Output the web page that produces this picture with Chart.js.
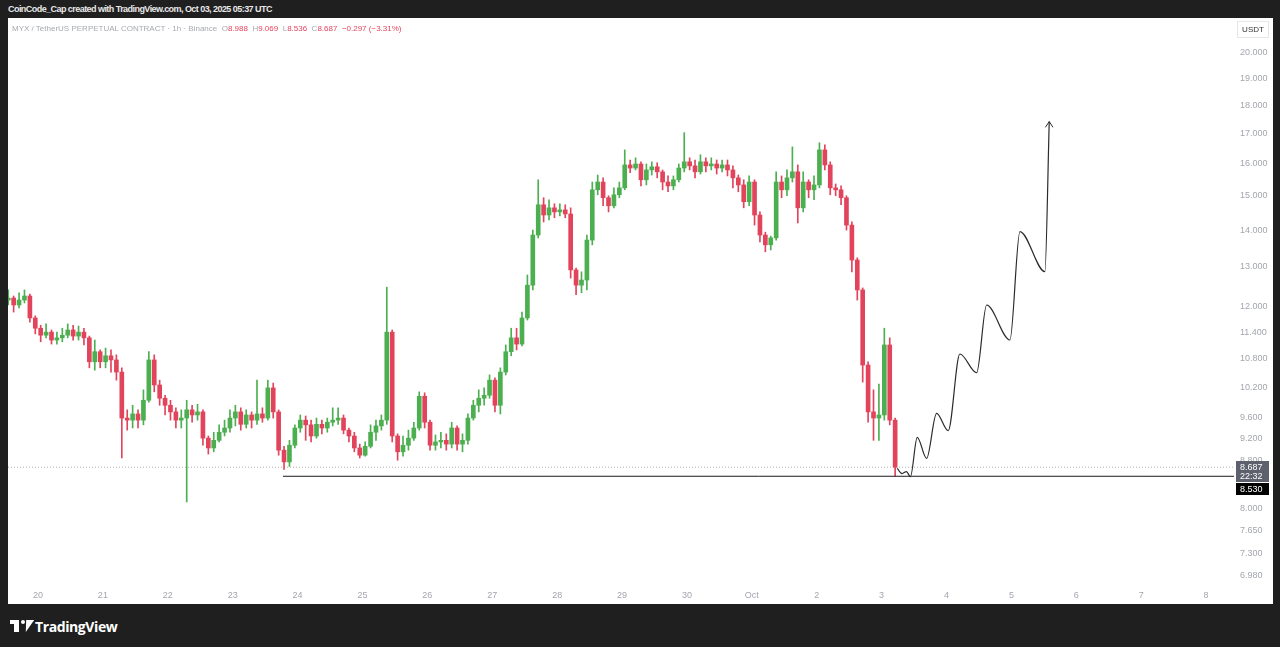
<!DOCTYPE html>
<html>
<head>
<meta charset="utf-8">
<title>MYX / TetherUS 1h</title>
<script src="https://cdn.jsdelivr.net/npm/chart.js@4.4.1/dist/chart.umd.min.js"></script>
<style>
  html, body { margin: 0; padding: 0; }
  body {
    width: 1280px; height: 647px; overflow: hidden; position: relative;
    background: #1f1f1f; font-family: "Liberation Sans", Arial, sans-serif;
  }
  .credit {
    position: absolute; left: 8px; top: 4px; font-size: 9px; font-weight: 600;
    color: #e8e8e8; letter-spacing: -0.55px;
  }
  .pane { position: absolute; left: 8px; top: 18px; width: 1265px; height: 586px; background: #fff; }
  .chart-box { position: absolute; left: 8px; top: 18px; width: 1265px; height: 586px; }
  .legend {
    position: absolute; left: 12px; top: 24px; font-size: 8px; color: #a6a9b0; white-space: nowrap;
  }
  .legend .v { color: #e2445c; }
  .brand { position: absolute; left: 10px; top: 616px; height: 20px; display: flex; align-items: center; }
  .brand .logo { position: relative; width: 22px; height: 14px; margin-right: 3px; }
  .brand .logo .t1 { position: absolute; left: 0; top: 1px; width: 9px; height: 4px; background: #fff; }
  .brand .logo .t2 { position: absolute; left: 4px; top: 1px; width: 5px; height: 12px; background: #fff; }
  .brand .logo .dot { position: absolute; left: 11px; top: 1px; width: 4px; height: 4px; border-radius: 2px; background: #fff; }
  .brand .logo .v { position: absolute; left: 14px; top: 1px; width: 0; height: 0;
    border-left: 4px solid transparent; border-right: 4px solid transparent; border-top: 12px solid #fff; transform: skewX(-20deg); }
  .brand span { color: #fff; font-size: 14px; font-weight: 700; font-family: "Open Sans", "Liberation Sans", sans-serif; letter-spacing: -0.4px; }
</style>
</head>
<body>
<div class="credit">CoinCode_Cap created with TradingView.com, Oct 03, 2025 05:37 UTC</div>
<div class="pane"></div>
<div class="chart-box"><canvas id="priceChart"></canvas></div>
<div class="legend">MYX / TetherUS PERPETUAL CONTRACT · 1h · Binance&nbsp;&nbsp;O<span class="v">8.988</span>&nbsp;&nbsp;H<span class="v">9.069</span>&nbsp;&nbsp;L<span class="v">8.536</span>&nbsp;&nbsp;C<span class="v">8.687</span>&nbsp;&nbsp;<span class="v">−0.297 (−3.31%)</span></div>
<div class="brand"><div class="logo"><div class="t1"></div><div class="t2"></div><div class="dot"></div><div class="v"></div></div><span>TradingView</span></div>

<script>
// time axis: days counted from Sep 20 00:00
const dayTicks = [0, 1, 2, 3, 4, 5, 6, 7, 8, 9, 10, 11, 12, 13, 14, 15, 16, 17, 18];
const dayLabels = ["20", "21", "22", "23", "24", "25", "26", "27", "28", "29", "30", "Oct", "2", "3", "4", "5", "6", "7", "8"];
const xMin = -0.462;
const xMax = 18.43;

// price axis (log)
const priceTicks = [20, 19, 18, 17, 16, 15, 14, 13, 12, 11.4, 10.8, 10.2, 9.6, 9.2, 8.8, 8.0, 7.65, 7.3, 6.98];
const yMin = 6.84;
const yMax = 21.45;

// candles, 2h each, first one centred on Sep 19 13:00
const candleStart = -0.4583;
const candleStep = 2 / 24;

const opens = [
  12.16, 12.21, 12.04, 12.16, 12.26, 11.73, 11.49, 11.33, 11.40, 11.22,
  11.27, 11.33, 11.45, 11.31, 11.40, 11.27, 10.74, 10.96, 10.74, 10.87,
  10.78, 10.52, 9.59, 9.55, 9.67, 9.55, 9.94, 10.78, 10.25, 9.98,
  9.84, 9.71, 9.55, 9.59, 9.75, 9.65, 9.71, 9.21, 9.03, 9.17,
  9.32, 9.40, 9.59, 9.71, 9.47, 9.65, 9.55, 9.67, 9.59, 10.19,
  9.71, 8.99, 8.78, 9.08, 9.40, 9.55, 9.46, 9.25, 9.47, 9.40,
  9.51, 9.55, 9.59, 9.36, 9.25, 9.03, 8.90, 9.06, 9.32, 9.44,
  9.55, 11.40, 9.25, 8.96, 9.08, 9.21, 9.40, 10.02, 9.51, 9.08,
  9.14, 9.17, 9.10, 9.40, 9.10, 9.17, 9.59, 9.84, 9.98, 10.04,
  10.35, 9.84, 10.52, 10.96, 11.27, 11.13, 11.73, 12.53, 13.86, 14.73,
  14.43, 14.64, 14.52, 14.58, 14.46, 12.92, 12.53, 12.66, 13.72, 15.18,
  15.42, 14.94, 14.70, 15.03, 15.24, 15.96, 15.86, 15.99, 15.49, 15.80,
  15.90, 15.74, 15.42, 15.30, 15.49, 15.86, 16.06, 15.93, 15.74, 16.06,
  15.93, 15.99, 15.86, 15.96, 15.80, 15.55, 15.33, 14.82, 15.42, 14.43,
  13.86, 13.59, 13.78, 15.42, 15.18, 15.55, 15.74, 14.64, 15.42, 15.18,
  15.33, 16.45, 15.96, 15.24, 15.18, 14.94, 14.14, 13.18, 12.41, 10.67,
  9.71, 9.59, 9.65, 11.11, 9.55
];
const highs = [
  12.41, 12.26, 12.34, 12.41, 12.31, 11.78, 11.56, 11.59, 11.45, 11.40,
  11.49, 11.59, 11.56, 11.54, 11.49, 11.31, 11.22, 11.00, 11.04, 11.00,
  10.89, 10.61, 9.75, 9.84, 9.75, 10.15, 10.96, 10.89, 10.35, 10.04,
  9.94, 9.79, 9.75, 9.94, 9.84, 9.86, 9.75, 9.25, 9.32, 9.46,
  9.55, 9.75, 9.84, 9.79, 9.75, 9.71, 10.35, 9.79, 10.35, 10.29,
  9.75, 9.06, 9.17, 9.46, 9.65, 9.63, 9.55, 9.59, 9.55, 9.59,
  9.79, 9.79, 9.65, 9.40, 9.32, 9.10, 9.14, 9.46, 9.55, 9.65,
  12.48, 11.45, 9.29, 9.25, 9.36, 9.51, 10.11, 10.09, 9.55, 9.27,
  9.32, 9.29, 9.51, 9.44, 9.29, 9.67, 9.94, 10.15, 10.19, 10.46,
  10.40, 10.61, 11.11, 11.49, 11.49, 11.87, 12.79, 14.00, 15.49, 14.94,
  14.88, 14.76, 14.76, 14.73, 14.64, 12.97, 12.87, 13.86, 15.42, 15.64,
  15.55, 15.00, 15.24, 15.42, 16.45, 16.12, 16.19, 16.06, 15.99, 16.06,
  16.03, 15.80, 15.61, 15.61, 15.99, 17.03, 16.19, 16.12, 16.29, 16.19,
  16.19, 16.12, 16.12, 16.12, 15.93, 15.64, 15.49, 15.61, 15.49, 14.52,
  13.94, 13.83, 15.74, 15.61, 15.80, 16.55, 15.96, 15.74, 15.49, 15.61,
  16.69, 16.62, 16.06, 15.36, 15.30, 15.00, 14.23, 13.24, 12.46, 10.74,
  10.15, 10.27, 11.49, 11.27, 9.59
];
const lows = [
  12.04, 11.87, 11.97, 12.09, 11.63, 11.36, 11.18, 11.27, 11.13, 11.13,
  11.18, 11.27, 11.22, 11.22, 11.11, 10.61, 10.56, 10.61, 10.61, 10.52,
  10.35, 8.85, 9.36, 9.40, 9.40, 9.46, 9.90, 10.11, 9.84, 9.65,
  9.55, 9.40, 9.40, 8.10, 9.51, 9.55, 9.08, 8.92, 8.96, 9.14,
  9.25, 9.32, 9.44, 9.36, 9.40, 9.40, 9.47, 9.51, 9.55, 9.59,
  8.90, 8.65, 8.70, 9.03, 9.32, 9.17, 9.14, 9.21, 9.29, 9.32,
  9.44, 9.47, 9.29, 9.14, 8.96, 8.85, 8.88, 9.03, 9.17, 9.36,
  9.47, 9.14, 8.81, 8.88, 8.99, 9.17, 9.36, 9.40, 8.99, 8.99,
  9.03, 8.99, 9.03, 8.99, 8.96, 9.10, 9.55, 9.71, 9.84, 9.98,
  9.71, 9.67, 10.46, 10.87, 11.00, 11.09, 11.68, 12.41, 13.78, 14.23,
  14.29, 14.35, 14.40, 14.35, 12.71, 12.29, 12.34, 12.41, 13.59, 15.03,
  14.70, 14.52, 14.64, 14.94, 15.18, 15.71, 15.80, 15.30, 15.33, 15.64,
  15.55, 15.18, 15.12, 15.18, 15.42, 15.74, 15.80, 15.55, 15.67, 15.74,
  15.80, 15.67, 15.74, 15.61, 15.24, 15.12, 14.64, 14.70, 14.14, 13.67,
  13.40, 13.45, 13.72, 14.94, 15.00, 15.42, 14.20, 14.52, 14.94, 14.88,
  15.24, 15.80, 15.03, 15.00, 14.73, 14.00, 12.87, 12.16, 10.31, 9.51,
  9.17, 9.17, 9.55, 9.46, 8.536
];
const closes = [
  12.21, 12.04, 12.16, 12.26, 11.73, 11.49, 11.33, 11.40, 11.22, 11.27,
  11.33, 11.45, 11.31, 11.40, 11.27, 10.74, 10.96, 10.74, 10.87, 10.78,
  10.52, 9.59, 9.55, 9.67, 9.55, 9.94, 10.78, 10.25, 9.98, 9.84,
  9.71, 9.55, 9.59, 9.75, 9.65, 9.71, 9.21, 9.03, 9.17, 9.32,
  9.40, 9.59, 9.71, 9.47, 9.65, 9.55, 9.67, 9.59, 10.19, 9.71,
  8.99, 8.78, 9.08, 9.40, 9.55, 9.46, 9.25, 9.47, 9.40, 9.51,
  9.55, 9.59, 9.36, 9.25, 9.03, 8.90, 9.06, 9.32, 9.44, 9.55,
  11.40, 9.25, 8.96, 9.08, 9.21, 9.40, 10.02, 9.51, 9.08, 9.14,
  9.17, 9.10, 9.40, 9.10, 9.17, 9.59, 9.84, 9.98, 10.04, 10.35,
  9.84, 10.52, 10.96, 11.27, 11.13, 11.73, 12.53, 13.86, 14.73, 14.43,
  14.64, 14.52, 14.58, 14.46, 12.92, 12.53, 12.66, 13.72, 15.18, 15.42,
  14.94, 14.70, 15.03, 15.24, 15.96, 15.86, 15.99, 15.49, 15.80, 15.90,
  15.74, 15.42, 15.30, 15.49, 15.86, 16.06, 15.93, 15.74, 16.06, 15.93,
  15.99, 15.86, 15.96, 15.80, 15.55, 15.33, 14.82, 15.42, 14.43, 13.86,
  13.59, 13.78, 15.42, 15.18, 15.55, 15.74, 14.64, 15.42, 15.18, 15.33,
  16.45, 15.96, 15.24, 15.18, 14.94, 14.14, 13.18, 12.41, 10.67, 9.71,
  9.59, 9.65, 11.11, 9.55, 8.687
];

// hand drawn projection (days, price)
const pathDays = [13.240, 13.313, 13.382, 13.444, 13.549, 13.693, 13.847, 14.026, 14.206, 14.464, 14.618, 14.977, 15.131, 15.516, 15.583];
const pathPrices = [8.667, 8.575, 8.611, 8.524, 9.224, 8.842, 9.682, 9.348, 10.909, 10.505, 12.040, 11.221, 13.957, 12.876, 17.415];
const arrowDays = [15.524, 15.583, 15.640];
const arrowPrices = [17.215, 17.415, 17.215];

// levels
const supportPrice = 8.53;
const supportFrom = 3.775;
const lastPrice = 8.687;
const countdown = "22:32";
const currency = "USDT";

const UP = "#4caf50";
const DOWN = "#e2445c";

const candleX = closes.map((_, i) => candleStart + i * candleStep);
const candleColors = closes.map((c, i) => (c >= opens[i] ? UP : DOWN));

const tagsPlugin = {
  id: "tags",
  afterDraw(chart) {
    const { ctx, chartArea, scales } = chart;
    const y = scales.y;
    const x0 = chartArea.right + 2;
    const w = 33;
    const yLast = Math.round(y.getPixelForValue(lastPrice));
    ctx.save();
    ctx.font = "9px 'Liberation Sans', Arial, sans-serif";
    ctx.textBaseline = "middle";
    ctx.textAlign = "left";
    // last price + countdown
    ctx.fillStyle = "#5d616d";
    ctx.fillRect(x0, yLast - 6, w, 21);
    ctx.fillStyle = "#ffffff";
    ctx.fillText(lastPrice.toFixed(3), x0 + 4, yLast + 0.5);
    ctx.fillText(countdown, x0 + 4, yLast + 9.5);
    // support level tag
    ctx.fillStyle = "#000000";
    ctx.fillRect(x0, yLast + 16, w, 12);
    ctx.fillStyle = "#ffffff";
    ctx.fillText(supportPrice.toFixed(3), x0 + 4, yLast + 22.5);
    // currency box
    ctx.fillStyle = "#ffffff";
    ctx.strokeStyle = "#e6e7ea";
    ctx.fillRect(x0 + 1, chartArea.top + 3, 32, 17);
    ctx.strokeRect(x0 + 1.5, chartArea.top + 3.5, 31, 16);
    ctx.fillStyle = "#333";
    ctx.font = "8px 'Liberation Sans', Arial, sans-serif";
    ctx.textAlign = "center";
    ctx.fillText(currency, x0 + 17, chartArea.top + 12);
    ctx.restore();
  },
};

const ctx = document.getElementById("priceChart");

new Chart(ctx, {
  type: "bar",
  data: {
    datasets: [
      {
        type: "line",
        label: "projection",
        data: pathDays.map((d, i) => ({ x: d, y: pathPrices[i] })),
        borderColor: "#2b2b2b",
        borderWidth: 1.2,
        pointRadius: 0,
        cubicInterpolationMode: "monotone",
        order: 0,
      },
      {
        type: "line",
        label: "arrow",
        data: arrowDays.map((d, i) => ({ x: d, y: arrowPrices[i] })),
        borderColor: "#2b2b2b",
        borderWidth: 1,
        pointRadius: 0,
        tension: 0,
        order: 0,
      },
      {
        type: "line",
        label: "support",
        data: [
          { x: supportFrom, y: supportPrice },
          { x: xMax, y: supportPrice },
        ],
        borderColor: "#1a1a1a",
        borderWidth: 1,
        pointRadius: 0,
        order: 1,
      },
      {
        type: "line",
        label: "last",
        data: [
          { x: xMin, y: lastPrice },
          { x: xMax, y: lastPrice },
        ],
        borderColor: "#b9aeb0",
        borderWidth: 1,
        borderDash: [1, 2],
        pointRadius: 0,
        order: 3,
      },
      {
        label: "wicks",
        data: candleX.map((x, i) => ({ x, y: [lows[i], highs[i]] })),
        backgroundColor: candleColors,
        barThickness: 1,
        grouped: false,
        borderWidth: 0,
        order: 2,
      },
      {
        label: "bodies",
        data: candleX.map((x, i) => ({ x, y: [opens[i], closes[i]] })),
        backgroundColor: candleColors,
        barThickness: 4,
        minBarLength: 1,
        grouped: false,
        borderWidth: 0,
        order: 2,
      },
    ],
  },
  options: {
    responsive: true,
    maintainAspectRatio: false,
    animation: false,
    layout: { padding: 0 },
    plugins: { legend: { display: false }, tooltip: { enabled: false } },
    scales: {
      x: {
        type: "linear",
        min: xMin,
        max: xMax,
        offset: false,
        grid: { display: false, drawTicks: false },
        border: { display: false },
        afterBuildTicks: (scale) => {
          scale.ticks = dayTicks.map((v) => ({ value: v }));
        },
        afterFit: (scale) => {
          scale.height = 18;
          scale.paddingLeft = 0;
          scale.paddingRight = 0;
        },
        ticks: {
          autoSkip: false,
          maxRotation: 0,
          padding: 4,
          color: "#a3a6ad",
          font: { size: 9, family: "'Liberation Sans', Arial, sans-serif" },
          callback: (v) => dayLabels[dayTicks.indexOf(v)],
        },
      },
      y: {
        type: "logarithmic",
        position: "right",
        min: yMin,
        max: yMax,
        grid: { display: false, drawTicks: false },
        border: { display: false },
        afterBuildTicks: (scale) => {
          scale.ticks = priceTicks.map((v) => ({ value: v }));
        },
        afterFit: (scale) => {
          scale.width = 39;
          scale.paddingTop = 0;
          scale.paddingBottom = 0;
        },
        ticks: {
          padding: 6,
          color: "#a3a6ad",
          font: { size: 9, family: "'Liberation Sans', Arial, sans-serif" },
          callback: (v) => Number(v).toFixed(3),
        },
      },
    },
  },
  plugins: [tagsPlugin],
});
</script>
</body>
</html>
